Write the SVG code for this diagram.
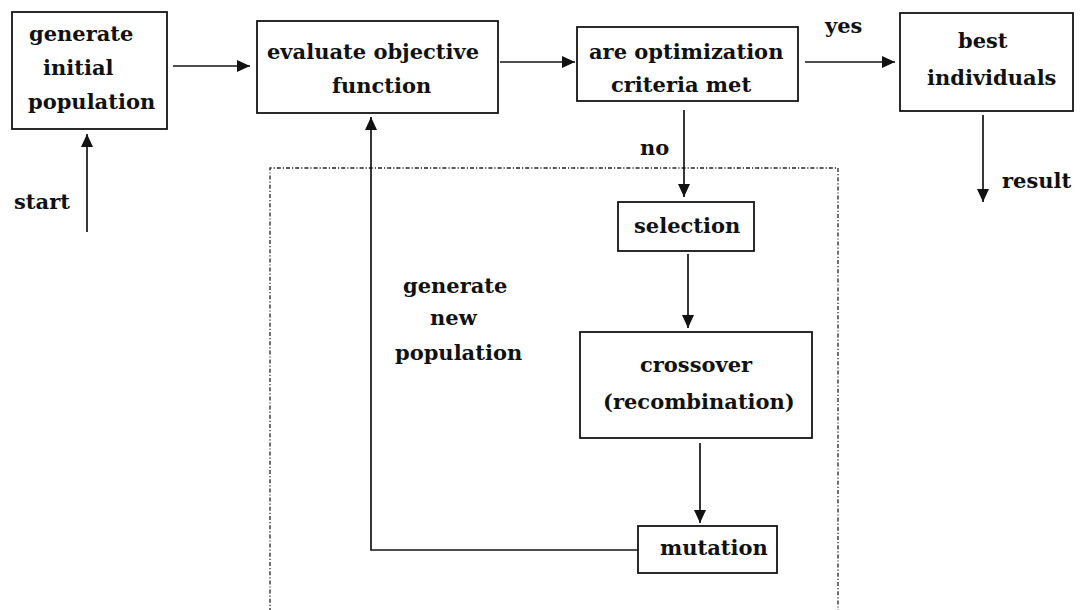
<svg xmlns="http://www.w3.org/2000/svg" width="1081" height="610" viewBox="0 0 1081 610">
  <defs>
    <style>
      .box { fill: #ffffff; stroke: #141414; stroke-width: 1.8; }
      .lbl { font-family: "DejaVu Serif", "Liberation Serif", serif; font-weight: bold; font-size: 21px; fill: #111111; }
      .edge { fill: none; stroke: #141414; stroke-width: 1.7; }
      .frame { fill: none; stroke: #222222; stroke-width: 1.3; stroke-dasharray: 4 2 1.2 2; }
    </style>
    <marker id="arrow" markerUnits="userSpaceOnUse" markerWidth="14" markerHeight="12" refX="13" refY="6" orient="auto">
      <path d="M0,0 L13,6 L0,12 Z" fill="#111111"/>
    </marker>
  </defs>

  <rect width="1081" height="610" fill="#ffffff"/>

  <!-- dash-dot frame around the reproduction loop -->
  <path class="frame" d="M270,612 V168 H838 V612"/>

  <!-- connectors -->
  <g id="connectors">
    <line class="edge" x1="87" y1="232" x2="87" y2="134" marker-end="url(#arrow)"/>
    <line class="edge" x1="173" y1="66" x2="250" y2="66" marker-end="url(#arrow)"/>
    <line class="edge" x1="500" y1="62" x2="575" y2="62" marker-end="url(#arrow)"/>
    <line class="edge" x1="805" y1="62" x2="895" y2="62" marker-end="url(#arrow)"/>
    <line class="edge" x1="684" y1="110" x2="684" y2="197" marker-end="url(#arrow)"/>
    <line class="edge" x1="688" y1="254" x2="688" y2="328" marker-end="url(#arrow)"/>
    <line class="edge" x1="700" y1="443" x2="700" y2="523" marker-end="url(#arrow)"/>
    <polyline class="edge" points="638,550 371,550 371,117" marker-end="url(#arrow)"/>
    <line class="edge" x1="983" y1="115" x2="983" y2="202" marker-end="url(#arrow)"/>
    <text class="lbl" x="14" y="209">start</text>
    <text class="lbl" x="825" y="33">yes</text>
    <text class="lbl" x="640" y="155">no</text>
    <text class="lbl" x="1002" y="188">result</text>
  </g>

  <g id="init">
    <rect class="box" x="12" y="12" width="155" height="117"/>
    <text class="lbl" x="29" y="41">generate</text>
    <text class="lbl" x="43" y="75">initial</text>
    <text class="lbl" x="28" y="109">population</text>
  </g>

  <g id="evaluate">
    <rect class="box" x="257" y="21" width="241" height="92"/>
    <text class="lbl" x="267" y="59">evaluate objective</text>
    <text class="lbl" x="332" y="93">function</text>
  </g>

  <g id="criteria">
    <rect class="box" x="577" y="27" width="221" height="74"/>
    <text class="lbl" x="589" y="59">are optimization</text>
    <text class="lbl" x="611" y="92">criteria met</text>
  </g>

  <g id="best">
    <rect class="box" x="900" y="13" width="173" height="98"/>
    <text class="lbl" x="958" y="48">best</text>
    <text class="lbl" x="927" y="85">individuals</text>
  </g>

  <g id="selection">
    <rect class="box" x="618" y="202" width="136" height="49"/>
    <text class="lbl" x="634" y="233">selection</text>
  </g>

  <g id="crossover">
    <rect class="box" x="580" y="332" width="232" height="106"/>
    <text class="lbl" x="640" y="372">crossover</text>
    <text class="lbl" x="603" y="409">(recombination)</text>
  </g>

  <g id="mutation">
    <rect class="box" x="638" y="526" width="139" height="47"/>
    <text class="lbl" x="660" y="555">mutation</text>
  </g>

  <g id="loop-label">
    <text class="lbl" x="403" y="293">generate</text>
    <text class="lbl" x="430" y="325">new</text>
    <text class="lbl" x="395" y="360">population</text>
  </g>
</svg>
